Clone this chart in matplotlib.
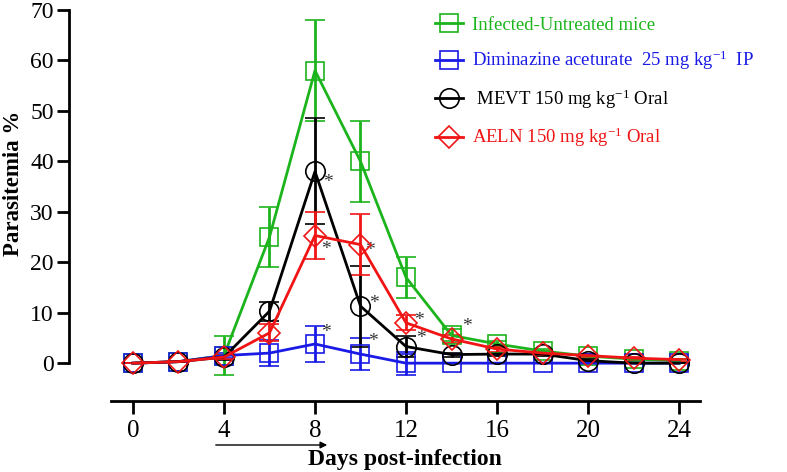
import matplotlib
matplotlib.use("Agg")
import matplotlib.pyplot as plt
from matplotlib.lines import Line2D
import numpy as np

plt.rcParams['font.family'] = ['Liberation Serif', 'DejaVu Serif']
plt.rcParams['mathtext.fontset'] = 'custom'
plt.rcParams['mathtext.rm'] = 'Liberation Serif'
plt.rcParams['mathtext.default'] = 'regular'

days = [0, 2, 4, 6, 8, 10, 12, 14, 16, 18, 20, 22, 24]

untreated = [0, 0.3, 1.5, 25, 58, 40, 17, 5.5, 3.8, 2.4, 1.4, 0.8, 0.5]
untreated_err = [0, 0, 3.8, 6, 10, 8, 4, 1.2, 0.6, 0.5, 0.4, 0.3, 0.3]

diminazine = [0, 0.3, 1.5, 2.0, 3.8, 1.8, 0, 0, 0, 0, 0, 0, 0]
diminazine_err = [0, 0, 0.5, 2.5, 3.5, 3.1, 2.3, 0, 0, 0, 0, 0, 0]

mevt = [0, 0.3, 1.2, 10.3, 38, 11.3, 3.3, 1.7, 1.8, 1.8, 0.5, 0, 0]
mevt_err = [0, 0, 0.5, 1.9, 10.5, 8, 2, 0.4, 0.3, 0.3, 0.3, 0, 0]

aeln = [0, 0.3, 1.2, 6.0, 25.3, 23.5, 8.0, 4.8, 2.8, 2.0, 1.5, 1.0, 0.7]
aeln_err = [0, 0, 0.4, 1.7, 4.6, 6, 1.5, 0.8, 0.5, 0.4, 0.3, 0.3, 0.2]

labels = ["Infected-Untreated mice",
          "Diminazine aceturate  25 mg kg$^{-1}$  IP",
          " MEVT 150 mg kg$^{-1}$ Oral",
          "AELN 150 mg kg$^{-1}$ Oral"]

yticks = [0, 10, 20, 30, 40, 50, 60, 70]
xticks = [0, 4, 8, 12, 16, 20, 24]

# significance marks: (series index, day index, x offset pt, y offset pt)
stars = [(2, 4, 9, -8), (3, 4, 8, -10), (3, 5, 7, -4), (2, 5, 10, 2),
         (1, 4, 8, 8), (1, 5, 9, 9), (3, 6, 9, 2), (2, 6, 11, 6), (3, 7, 11, 9)]

colors = ['#1cb41c', '#1a1ae6', '#000000', '#f01414']
markers = ['s', 's', 'o', 'D']
msizes = [12.5, 12.5, 14, 11]
series = [untreated, diminazine, mevt, aeln]
errs = [untreated_err, diminazine_err, mevt_err, aeln_err]

fig = plt.figure(figsize=(7.87, 4.72), dpi=100)
ax = fig.add_axes([69/787, 1-401/472, (700-69)/787, (401-10)/472])

for s, e, c, m, ms in zip(series, errs, colors, markers, msizes):
    ax.errorbar(days, s, yerr=e, color=c, lw=2, elinewidth=2, capsize=7,
                capthick=2, marker=m, ms=ms, mfc='none', mec=c, mew=1.2,
                zorder=3)

for si, di, dx, dy in stars:
    ax.annotate('*', xy=(days[di], series[si][di]), xytext=(dx, dy),
                textcoords='offset points', ha='center', va='center',
                fontsize=14, color='#333333')

ax.set_xlim(-2.81, 24.92)
ax.set_ylim(-7.5, 70)
ax.spines['top'].set_visible(False)
ax.spines['right'].set_visible(False)
ax.spines['left'].set_bounds(0, 70)
ax.spines['bottom'].set_bounds(-0.97, 24.92)
ax.spines['left'].set_linewidth(2)
ax.spines['bottom'].set_linewidth(2)
ax.set_yticks(yticks)
ax.set_xticks(xticks)
ax.tick_params(axis='both', direction='out', length=9, width=2)
ax.tick_params(axis='y', pad=2, labelsize=17)
ax.tick_params(axis='x', pad=5, labelsize=18)

ax.set_ylabel('Parasitemia %', fontsize=16.5, fontweight='bold')
ax.yaxis.set_label_coords(-0.071, (401-183)/391)
fig.text(405/787, 1-460/472, 'Days post-infection', fontsize=17,
         fontweight='bold', ha='center', va='center')

# arrow under the x axis
fig.add_artist(matplotlib.patches.FancyArrowPatch(
    (213/787, 1-445/472), (330/787, 1-445/472), transform=fig.transFigure,
    arrowstyle='-|>', mutation_scale=10, lw=1, color='black'))

handles = [Line2D([0], [0], color=c, lw=2, marker=m, ms=ms, mfc='none',
                  mec=c, mew=1.2)
           for c, m, ms in zip(colors, markers, msizes)]
leg = ax.legend(handles, labels, loc='upper left',
                bbox_to_anchor=(418/787, 1-0/472), bbox_transform=fig.transFigure,
                frameon=False, fontsize=13.5, handlelength=1.5, handletextpad=0.5,
                labelspacing=0.8)
for t, c in zip(leg.get_texts(), colors):
    t.set_color(c)

fig.savefig('out.png', dpi=100)
